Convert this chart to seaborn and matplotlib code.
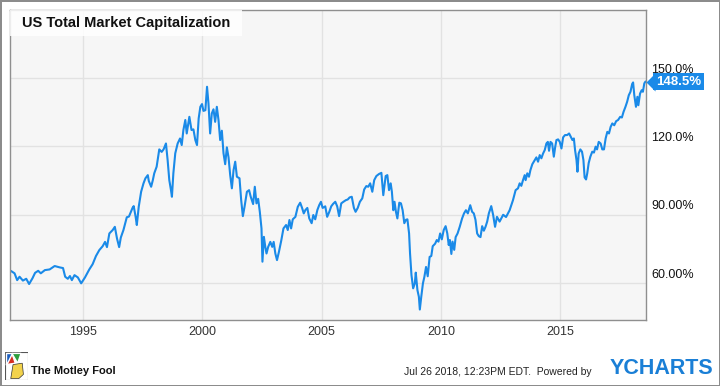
import matplotlib
matplotlib.use("Agg")
import matplotlib.pyplot as plt
import matplotlib.transforms as mtransforms
from matplotlib.patches import Rectangle, Polygon
import pandas as pd
import seaborn as sns

# decimal year of each reading, and US total market cap as % of GDP
years = [
    1991.98, 1992.14, 1992.25, 1992.35, 1992.49, 1992.63, 1992.75, 1992.89, 1993.00, 1993.13,
    1993.24, 1993.41, 1993.61, 1993.82, 1994.03, 1994.17, 1994.26, 1994.37, 1994.46, 1994.54,
    1994.65, 1994.79, 1994.93, 1995.09, 1995.27, 1995.41, 1995.55, 1995.69, 1995.83, 1995.93,
    1996.01, 1996.11, 1996.25, 1996.34, 1996.43, 1996.52, 1996.59, 1996.70, 1996.84, 1996.93,
    1997.08, 1997.13, 1997.21, 1997.26, 1997.34, 1997.44, 1997.54, 1997.62, 1997.72, 1997.76,
    1997.86, 1997.93, 1997.99, 1998.09, 1998.20, 1998.30, 1998.38, 1998.48, 1998.55, 1998.62,
    1998.69, 1998.73, 1998.79, 1998.87, 1998.97, 1999.07, 1999.14, 1999.21, 1999.29, 1999.35,
    1999.46, 1999.55, 1999.63, 1999.71, 1999.78, 1999.85, 1999.92, 1999.99, 2000.05, 2000.13,
    2000.20, 2000.26, 2000.33, 2000.40, 2000.47, 2000.54, 2000.61, 2000.68, 2000.75, 2000.82,
    2000.89, 2000.96, 2001.03, 2001.10, 2001.17, 2001.24, 2001.31, 2001.38, 2001.45, 2001.56,
    2001.63, 2001.70, 2001.77, 2001.87, 2001.96, 2002.03, 2002.13, 2002.20, 2002.27, 2002.34,
    2002.41, 2002.48, 2002.52, 2002.58, 2002.64, 2002.69, 2002.76, 2002.85, 2002.93, 2002.99,
    2003.06, 2003.13, 2003.21, 2003.31, 2003.40, 2003.51, 2003.58, 2003.65, 2003.72, 2003.79,
    2003.90, 2004.00, 2004.10, 2004.18, 2004.25, 2004.32, 2004.40, 2004.48, 2004.58, 2004.65,
    2004.73, 2004.82, 2004.90, 2004.97, 2005.04, 2005.15, 2005.23, 2005.32, 2005.40, 2005.48,
    2005.57, 2005.65, 2005.73, 2005.82, 2005.91, 2006.01, 2006.09, 2006.17, 2006.26, 2006.35,
    2006.42, 2006.51, 2006.60, 2006.70, 2006.78, 2006.87, 2006.95, 2007.03, 2007.12, 2007.20,
    2007.29, 2007.40, 2007.50, 2007.58, 2007.68, 2007.75, 2007.82, 2007.89, 2007.94, 2008.00,
    2008.05, 2008.11, 2008.17, 2008.25, 2008.32, 2008.39, 2008.46, 2008.53, 2008.59, 2008.66,
    2008.70, 2008.76, 2008.83, 2008.90, 2008.94, 2009.01, 2009.07, 2009.11, 2009.17, 2009.24,
    2009.30, 2009.37, 2009.44, 2009.52, 2009.59, 2009.65, 2009.75, 2009.82, 2009.89, 2009.96,
    2010.03, 2010.11, 2010.19, 2010.26, 2010.32, 2010.37, 2010.43, 2010.48, 2010.55, 2010.61,
    2010.69, 2010.78, 2010.88, 2010.96, 2011.04, 2011.12, 2011.22, 2011.30, 2011.37, 2011.44,
    2011.51, 2011.58, 2011.65, 2011.72, 2011.79, 2011.86, 2011.93, 2012.00, 2012.10, 2012.18,
    2012.26, 2012.34, 2012.45, 2012.60, 2012.72, 2012.87, 2013.01, 2013.12, 2013.22, 2013.29,
    2013.36, 2013.43, 2013.50, 2013.54, 2013.61, 2013.68, 2013.74, 2013.82, 2013.92, 2013.99,
    2014.06, 2014.13, 2014.20, 2014.27, 2014.34, 2014.41, 2014.47, 2014.52, 2014.58, 2014.65,
    2014.72, 2014.78, 2014.83, 2014.90, 2014.97, 2015.04, 2015.11, 2015.19, 2015.28, 2015.36,
    2015.43, 2015.50, 2015.56, 2015.61, 2015.67, 2015.71, 2015.76, 2015.83, 2015.90, 2015.96,
    2016.01, 2016.07, 2016.12, 2016.18, 2016.25, 2016.33, 2016.40, 2016.47, 2016.53, 2016.60,
    2016.68, 2016.75, 2016.82, 2016.89, 2016.96, 2017.03, 2017.10, 2017.17, 2017.25, 2017.33,
    2017.41, 2017.50, 2017.57, 2017.64, 2017.72, 2017.79, 2017.86, 2017.93, 2018.00, 2018.04,
    2018.09, 2018.16, 2018.22, 2018.26, 2018.33, 2018.40, 2018.45, 2018.51, 2018.56,
]
market_cap_pct = [
    65.4, 64.3, 61.3, 62.8, 61.1, 61.9, 59.6, 62.1, 64.5, 65.4,
    64.3, 65.7, 66.0, 67.5, 66.9, 66.6, 62.8, 61.9, 63.1, 61.3,
    63.5, 62.5, 59.9, 62.5, 66.0, 68.3, 71.9, 74.5, 76.2, 78.1,
    75.8, 81.8, 83.3, 84.7, 79.6, 75.8, 80.0, 83.3, 88.9, 89.2,
    93.0, 93.8, 89.1, 85.5, 93.5, 100.1, 103.8, 106.0, 107.4, 104.9,
    102.3, 105.2, 108.2, 111.1, 118.7, 117.6, 118.7, 121.3, 114.0, 105.2,
    100.8, 97.9, 108.2, 117.0, 121.3, 123.5, 120.6, 127.2, 131.6, 125.7,
    133.0, 127.2, 127.5, 122.8, 120.6, 132.3, 137.4, 138.6, 135.6, 135.9,
    146.2, 138.9, 125.7, 134.5, 136.3, 130.8, 137.4, 131.6, 122.8, 126.9,
    117.0, 112.2, 119.6, 115.2, 107.4, 101.6, 109.6, 113.3, 106.7, 106.0,
    96.4, 89.4, 93.5, 100.1, 100.8, 97.9, 94.7, 102.3, 95.0, 97.0,
    91.3, 84.0, 69.4, 80.3, 75.9, 73.0, 75.9, 78.1, 75.9, 78.1,
    73.0, 70.1, 73.7, 78.8, 84.0, 85.5, 83.3, 87.7, 84.0, 88.0,
    89.1, 93.5, 95.3, 93.0, 90.6, 92.1, 93.0, 88.4, 86.3, 89.9,
    88.0, 92.1, 94.3, 95.7, 93.0, 93.7, 89.1, 91.3, 93.7, 94.8,
    95.7, 93.7, 89.4, 95.0, 95.7, 96.4, 96.7, 97.6, 97.9, 93.0,
    91.3, 93.0, 95.7, 97.2, 101.1, 102.6, 102.3, 103.8, 100.1, 105.2,
    107.0, 107.9, 108.4, 98.6, 107.0, 107.4, 100.8, 103.8, 100.1, 92.0,
    95.7, 91.3, 88.4, 95.3, 95.0, 92.0, 86.3, 87.8, 88.0, 81.8,
    73.0, 63.5, 57.7, 59.9, 64.6, 56.9, 54.0, 48.4, 54.0, 59.9,
    62.7, 67.1, 63.0, 71.5, 71.9, 76.2, 77.3, 78.9, 78.2, 81.8,
    79.2, 83.3, 85.0, 81.8, 76.7, 78.9, 72.8, 78.2, 74.6, 80.2,
    81.8, 84.7, 88.4, 90.6, 92.0, 90.6, 94.2, 91.3, 90.6, 87.8,
    81.8, 80.6, 80.2, 85.0, 83.0, 84.7, 87.0, 90.6, 93.8, 89.9,
    84.7, 89.1, 87.0, 90.0, 89.0, 92.0, 96.4, 100.8, 101.6, 103.8,
    102.7, 105.2, 107.4, 105.2, 108.2, 106.7, 109.6, 112.2, 114.0, 115.2,
    113.3, 116.2, 114.8, 116.9, 118.4, 121.3, 122.0, 118.1, 122.0, 121.3,
    115.5, 119.9, 122.8, 123.1, 122.0, 119.1, 124.0, 125.0, 125.0, 125.7,
    124.3, 122.8, 123.5, 118.4, 114.0, 108.9, 116.9, 118.7, 117.7, 114.0,
    106.4, 105.5, 108.2, 112.7, 115.5, 117.7, 117.3, 119.9, 118.7, 122.0,
    121.3, 118.7, 118.7, 123.5, 126.4, 125.7, 128.6, 130.1, 129.3, 131.1,
    131.6, 133.0, 132.7, 135.2, 137.4, 139.6, 142.5, 144.0, 147.4, 148.1,
    142.5, 137.4, 141.8, 138.1, 143.2, 144.7, 144.0, 147.7, 148.5,
]

x_ticks = [1995, 2000, 2005, 2010, 2015]
x_tick_labels = ['1995', '2000', '2005', '2010', '2015']
y_ticks = [60, 90, 120, 150]
y_tick_labels = ['60.00%', '90.00%', '120.0%', '150.0%']
last_label = '148.5%'

blue = '#1a8ae8'

sns.set_style('white', {'axes.facecolor': '#f6f6f6', 'axes.edgecolor': '#8f8f8f'})
plt.rcParams['font.family'] = ['Liberation Sans', 'DejaVu Sans']

df = pd.DataFrame({'year': years, 'cap': market_cap_pct})

fig = plt.figure(figsize=(7.2, 3.86), dpi=100)
fig.patch.set_edgecolor('#8c8c8c')
fig.patch.set_linewidth(2)

ax = fig.add_axes([10 / 720, 66 / 386, 636 / 720, 310 / 386])
sns.lineplot(data=df, x='year', y='cap', ax=ax, color=blue, linewidth=1.5)

ax.set_xlim(1991.95, 2018.58)
ax.set_ylim(43.8, 179.9)
ax.set_xlabel('')
ax.set_ylabel('')
ax.grid(True, color='#e2e2e2', linewidth=1)
ax.set_axisbelow(True)
for s in ax.spines.values():
    s.set_color('#8f8f8f')
    s.set_linewidth(1)

ax.set_xticks(x_ticks, x_tick_labels)
ax.yaxis.tick_right()
ax.set_yticks(y_ticks, y_tick_labels)
ax.tick_params(axis='x', length=0, pad=4, labelsize=9, labelcolor='#333333')
ax.tick_params(axis='y', length=0, pad=4, labelsize=9, labelcolor='#111111')
shift = mtransforms.ScaledTranslation(0, 10 / 100, fig.dpi_scale_trans)
for lab in ax.get_yticklabels():
    lab.set_transform(lab.get_transform() + shift)

# title box
ax.add_patch(Rectangle((0, 1 - 26 / 310), 232 / 636, 26 / 310, transform=ax.transAxes,
                       facecolor='white', alpha=0.85, edgecolor='none', zorder=3))
ax.text(12 / 636, 1 - 13 / 310, 'US Total Market Capitalization', transform=ax.transAxes,
        ha='left', va='center', fontsize=10.5, fontweight='bold', color='#111111', zorder=4)

# last value flag
last = market_cap_pct[-1]
blend = mtransforms.blended_transform_factory(ax.transAxes, ax.transData)
ax.plot([1.0], [last], transform=blend, clip_on=False, linestyle='none',
        marker=[(0, 0), (1, 1), (1, -1)], markersize=13, color=blue, markeredgewidth=0, zorder=5)
ax.annotate(last_label, xy=(1.0, last), xycoords=blend, xytext=(10, 0),
            textcoords='offset pixels', ha='left', va='center', color='white',
            fontsize=9.5, fontweight='bold', annotation_clip=False, zorder=6,
            bbox=dict(boxstyle='square,pad=0.2', facecolor=blue, edgecolor='none'))

# footer
logo = fig.add_axes([5 / 720, 6 / 386, 23 / 720, 28 / 386])
logo.set_xlim(0, 1)
logo.set_ylim(0, 1)
logo.axis('off')
logo.add_patch(Rectangle((0, 0), 1, 1, facecolor='white', edgecolor='#555555', linewidth=0.8))
logo.add_patch(Polygon([(0.05, 0.55), (0.3, 0.95), (0.45, 0.6)], facecolor='#d62d20'))
logo.add_patch(Polygon([(0.3, 0.95), (0.7, 0.95), (0.55, 0.6)], facecolor='#2e9e3e'))
logo.add_patch(Polygon([(0.05, 0.55), (0.05, 0.95), (0.3, 0.95)], facecolor='#1d5fbf'))
logo.add_patch(Polygon([(0.25, 0.05), (0.35, 0.55), (0.75, 0.6), (0.8, 0.2), (0.6, 0.05)],
                       facecolor='#f2d24b', edgecolor='#333333', linewidth=0.5))
fig.text(31 / 720, 1 - 371 / 386, 'The Motley Fool', ha='left', va='center',
         fontsize=8, fontweight='bold', color='#111111')
fig.text(592 / 720, 1 - 372 / 386, 'Jul 26 2018, 12:23PM EDT.  Powered by', ha='right',
         va='center', fontsize=7.5, color='#222222')
fig.text(610 / 720, 1 - 369 / 386, 'YCHARTS', ha='left', va='center',
         fontsize=15.5, fontweight='bold', color='#1a7fd6')

fig.savefig('out.png', dpi=100)
